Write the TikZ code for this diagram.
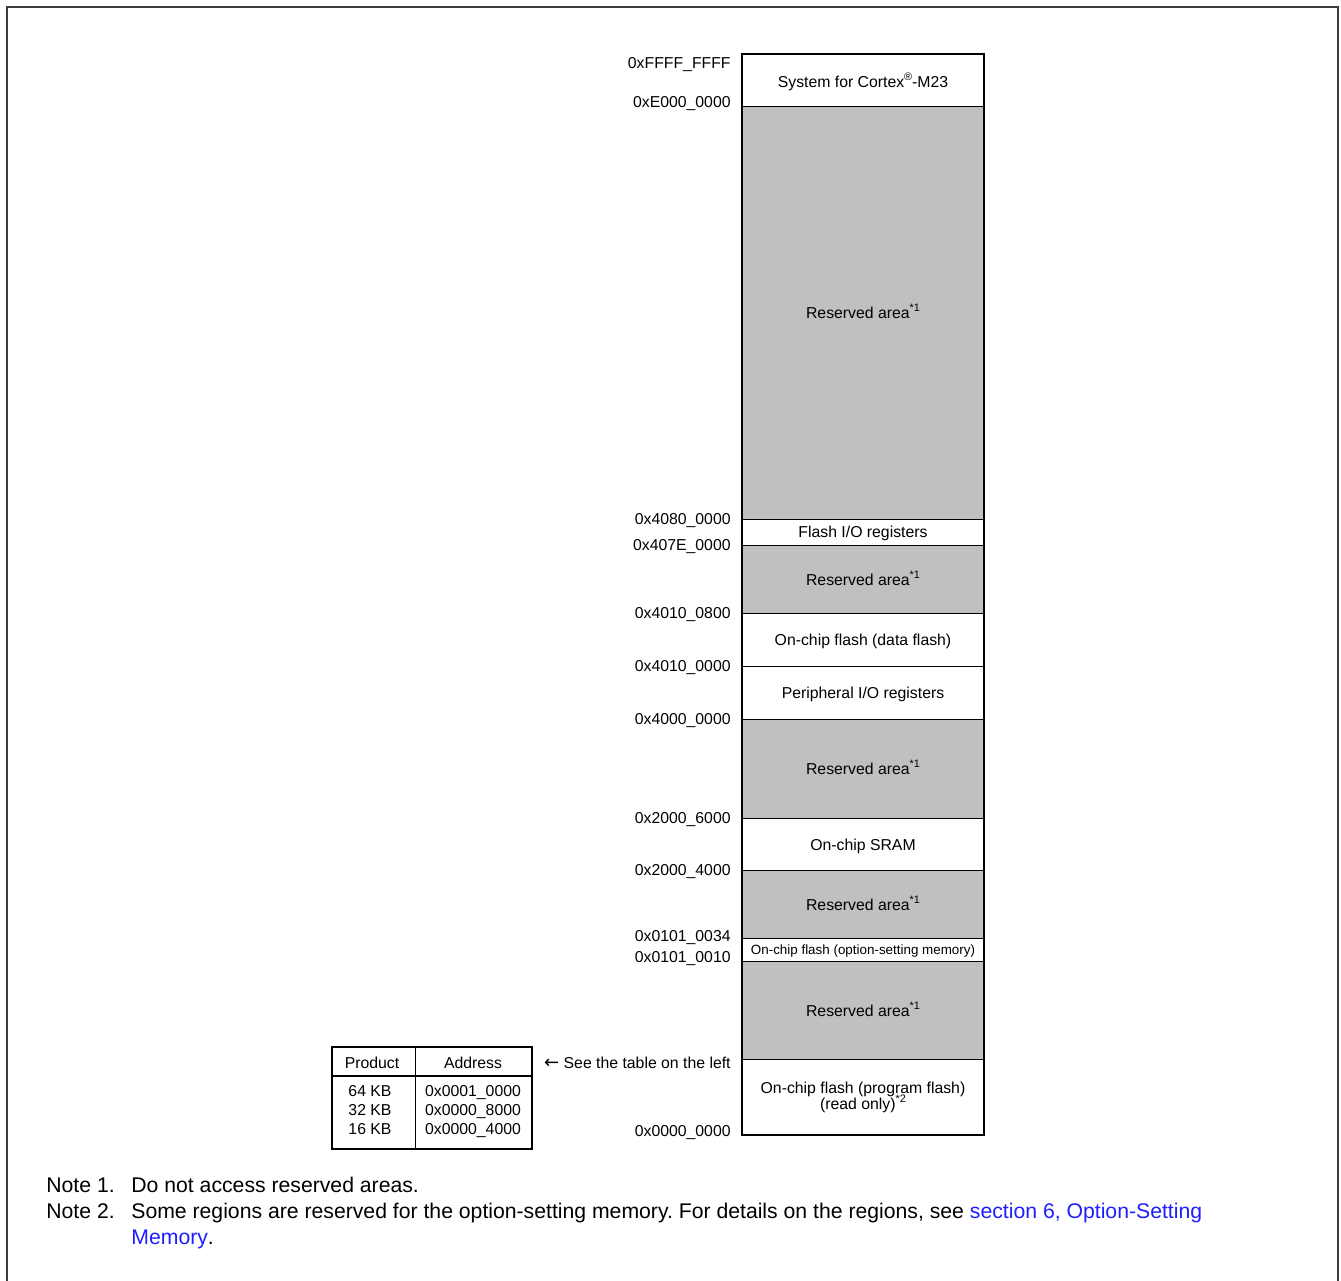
\documentclass[tikz,border=0pt]{standalone}
\usepackage{fontspec}
\setmainfont{Liberation Sans}
\newfontfamily\arrowfont{DejaVu Sans}
\definecolor{resv}{HTML}{C0C0C0}
\definecolor{linkblue}{HTML}{1E1EFF}
\definecolor{framegray}{HTML}{3C3C3C}
\newcommand\mysup[1]{\raisebox{0.8ex}{\fontsize{5.4}{6}\selectfont #1}}
\frenchspacing
\begin{document}
\begin{tikzpicture}[x=0.5pt,y=-0.5pt,
  addr/.style={anchor=base east,inner sep=0pt,font=\fontsize{7.9}{9}\selectfont},
  regtext/.style={anchor=base,inner sep=0pt,font=\fontsize{7.9}{9}\selectfont},
  smalltext/.style={anchor=base,inner sep=0pt,font=\fontsize{6.7}{8}\selectfont},
  tabtext/.style={anchor=base,inner sep=0pt,font=\fontsize{7.9}{9}\selectfont},
  notetext/.style={anchor=base west,inner sep=0pt,font=\fontsize{10.6}{13}\selectfont},
  divider/.style={line width=0.5pt},
  mapborder/.style={line width=1pt},
  tabline/.style={line width=0.6pt}]
\useasboundingbox (0,0) rectangle (1341,1281);
\fill[white] (0,0) rectangle (1341,1281);
% outer frame
\draw[framegray,line width=1pt] (7,1281) -- (7,6.5) -- (1338,6.5) -- (1338,1281);
% reserved areas
\fill[resv] (742,106) rectangle (984,519);
\fill[resv] (742,545) rectangle (984,613);
\fill[resv] (742,719) rectangle (984,818);
\fill[resv] (742,870) rectangle (984,938);
\fill[resv] (742,961) rectangle (984,1059);
\foreach \yy in {106,519,545,613,666,719,818,870,938,961,1059}
  \draw[divider] (742,\yy) -- (984,\yy);
\draw[mapborder] (742,54) rectangle (984,1135);
% region texts
\node[regtext] (r1) at (863,87) {System for Cortex\mysup{®}-M23};
\node[regtext] (r2) at (863,318) {Reserved area\mysup{*1}};
\node[regtext] (r3) at (863,537) {Flash I/O registers};
\node[regtext] (r4) at (863,585) {Reserved area\mysup{*1}};
\node[regtext] (r5) at (863,645) {On-chip flash (data flash)};
\node[regtext] (r6) at (863,698) {Peripheral I/O registers};
\node[regtext] (r7) at (863,774) {Reserved area\mysup{*1}};
\node[regtext] (r8) at (863,850) {On-chip SRAM};
\node[regtext] (r9) at (863,910) {Reserved area\mysup{*1}};
\node[smalltext] (r10) at (863,954) {On-chip flash (option-setting memory)};
\node[regtext] (r11) at (863,1016) {Reserved area\mysup{*1}};
\node[regtext] (r12a) at (863,1093) {On-chip flash (program flash)};
\node[regtext] (r12b) at (863,1109) {(read only)\mysup{*2}};
% address labels
\node[addr] (a1) at (731,68) {0xFFFF\_FFFF};
\node[addr] (a2) at (731,107) {0xE000\_0000};
\node[addr] (a3) at (731,524) {0x4080\_0000};
\node[addr] (a4) at (731,550) {0x407E\_0000};
\node[addr] (a5) at (731,618) {0x4010\_0800};
\node[addr] (a6) at (731,671) {0x4010\_0000};
\node[addr] (a7) at (731,724) {0x4000\_0000};
\node[addr] (a8) at (731,823) {0x2000\_6000};
\node[addr] (a9) at (731,875) {0x2000\_4000};
\node[addr] (a10) at (731,941) {0x0101\_0034};
\node[addr] (a11) at (731,962) {0x0101\_0010};
\node[addr] (a12) at (731,1136) {0x0000\_0000};
\node[addr] (see) at (731,1068) {{\arrowfont\fontsize{9}{9}\selectfont ←} See the table on the left};
% table
\draw[tabline] (332,1047) rectangle (532,1149);
\draw[tabline] (415.5,1047) -- (415.5,1149);
\draw[tabline] (332,1076) -- (532,1076);
\node[tabtext] (t1) at (372,1068) {Product};
\node[tabtext] (t2) at (473,1068) {Address};
\node[tabtext] (t3) at (370,1096) {64 KB};
\node[tabtext] (t4) at (370,1115) {32 KB};
\node[tabtext] (t5) at (370,1134) {16 KB};
\node[tabtext] (t6) at (473,1096) {0x0001\_0000};
\node[tabtext] (t7) at (473,1115) {0x0000\_8000};
\node[tabtext] (t8) at (473,1134) {0x0000\_4000};
% notes
\node[notetext] (n1) at (46,1192) {Note 1.};
\node[notetext] (n1t) at (131,1192) {Do not access reserved areas.};
\node[notetext] (n2) at (46,1218) {Note 2.};
\node[notetext] (n2t) at (131,1218) {Some regions are reserved for the option-setting memory. For details on the regions, see \textcolor{linkblue}{section 6, Option-Setting}};
\node[notetext] (n2u) at (131,1244) {\textcolor{linkblue}{Memory}.};
\end{tikzpicture}
\end{document}
